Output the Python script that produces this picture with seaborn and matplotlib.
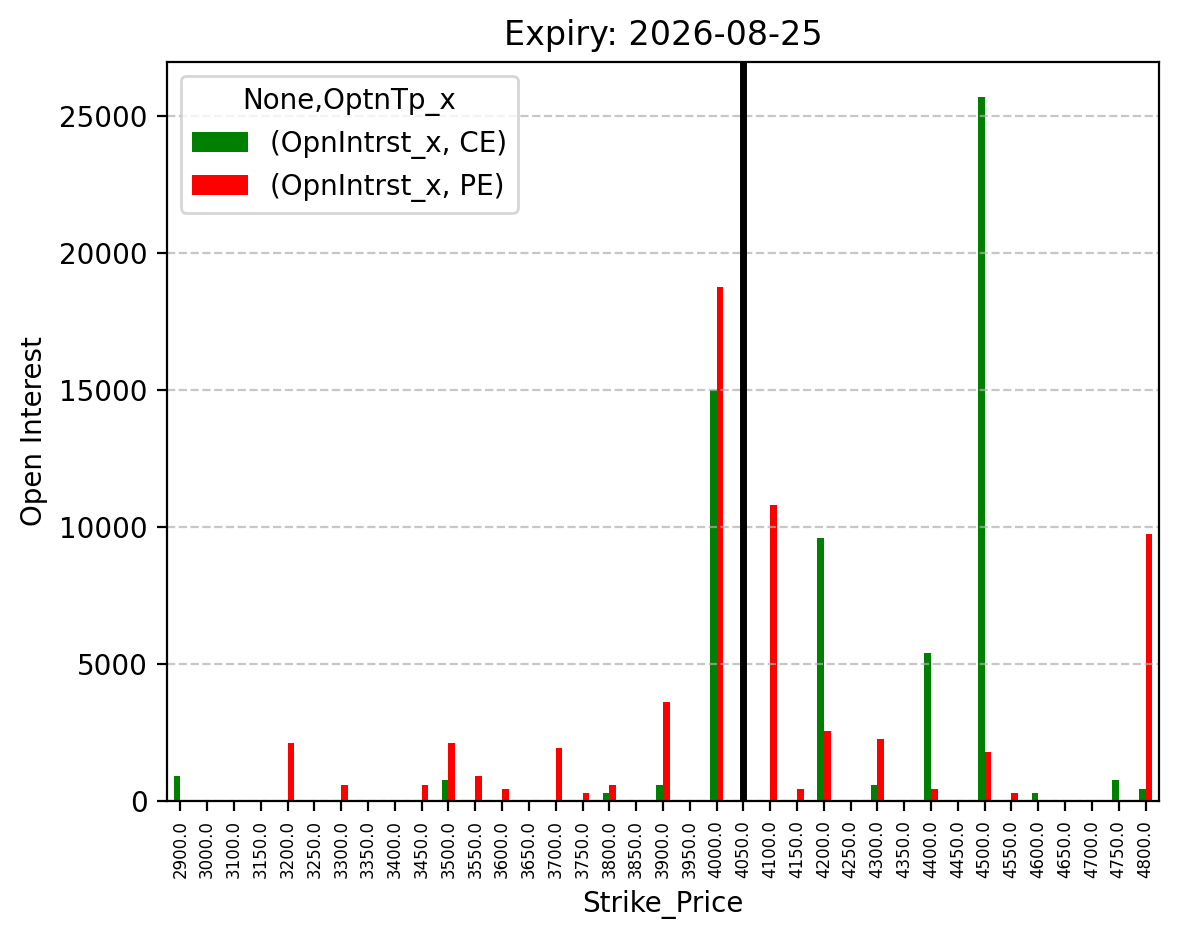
import matplotlib
matplotlib.use("Agg")
import matplotlib.pyplot as plt
import seaborn as sns
import pandas as pd

# Strike prices and open interest
strikes = [2900.0, 3000.0, 3100.0, 3150.0, 3200.0, 3250.0, 3300.0, 3350.0, 3400.0,
           3450.0, 3500.0, 3550.0, 3600.0, 3650.0, 3700.0, 3750.0, 3800.0, 3850.0,
           3900.0, 3950.0, 4000.0, 4050.0, 4100.0, 4150.0, 4200.0, 4250.0, 4300.0,
           4350.0, 4400.0, 4450.0, 4500.0, 4550.0, 4600.0, 4650.0, 4700.0, 4750.0,
           4800.0]
ce_oi = [900, 0, 0, 0, 0, 0, 0, 0, 0,
         0, 750, 0, 0, 0, 0, 0, 300, 0,
         600, 0, 15000, 0, 0, 0, 9600, 0, 600,
         0, 5400, 0, 25700, 0, 300, 0, 0, 750,
         450]
pe_oi = [0, 0, 0, 0, 2100, 0, 600, 0, 0,
         600, 2100, 900, 450, 0, 1950, 300, 600, 0,
         3600, 0, 18750, 0, 10800, 450, 2550, 0, 2250,
         0, 450, 0, 1800, 300, 0, 0, 0, 0,
         9750]
spot = 4050.0
expiry = "2026-08-25"

labels = ["%.1f" % s for s in strikes]
df = pd.DataFrame({
    "Strike_Price": labels * 2,
    "OI": ce_oi + pe_oi,
    "Type": ["(OpnIntrst_x, CE)"] * len(strikes) + ["(OpnIntrst_x, PE)"] * len(strikes),
})

fig, ax = plt.subplots(figsize=(5.895, 4.695), dpi=200)
sns.barplot(data=df, x="Strike_Price", y="OI", hue="Type", order=labels,
            palette=["green", "red"], width=0.5, gap=0, saturation=1, ax=ax)

# spot price marker
ax.axvline(labels.index("%.1f" % spot), color="black", linewidth=2.5)

ax.set_xlim(-0.5, len(strikes) - 0.5)
ax.tick_params(axis="x", labelrotation=90, labelsize=6)
ax.grid(axis="y", linestyle="--", alpha=0.7)
ax.set_title("Expiry: " + expiry)
ax.set_xlabel("Strike_Price")
ax.set_ylabel("Open Interest")
ax.legend(title="None,OptnTp_x", loc="upper left")

fig.subplots_adjust(left=0.1416, right=0.983, top=0.934, bottom=0.147)
plt.savefig("out.png", dpi=200)
